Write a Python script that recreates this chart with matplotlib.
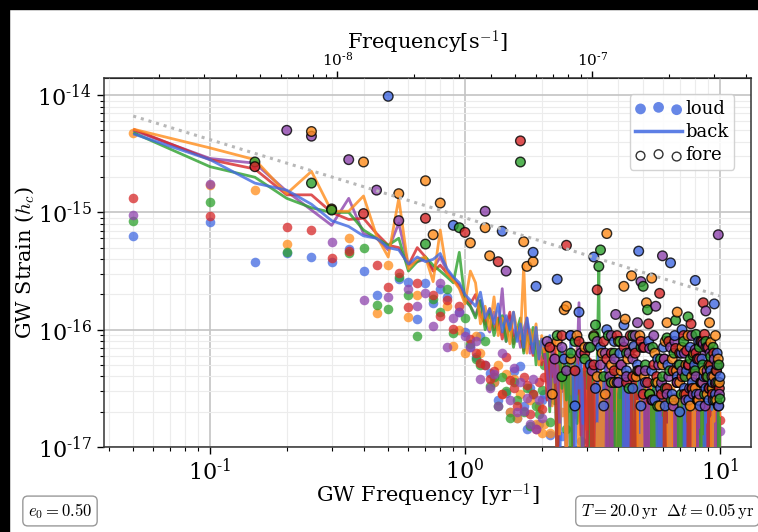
import numpy as np
import matplotlib
matplotlib.use("Agg")
import matplotlib.pyplot as plt
from matplotlib.lines import Line2D
from matplotlib.patches import Rectangle
from matplotlib.ticker import FuncFormatter

plt.rcParams.update({
    "font.family": "serif",
    "font.serif": ["DejaVu Serif"],
    "mathtext.fontset": "cm",
    "axes.unicode_minus": False,
})

# ---- observing setup -------------------------------------------------------
T_YR = 20.0          # observing span [yr]
DT_YR = 0.05         # cadence [yr]
ECC0 = 0.50          # initial eccentricity
YR_SEC = 365.25 * 86400.0
N_BINS = 200
freqs = np.arange(1, N_BINS + 1) / T_YR   # Fourier bins k/T  [yr^-1]

# reference power law  h_c = A (f / 1yr^-1)^(-2/3)
REF_AMP = 9.0e-16
REF_INDEX = -2.0 / 3.0

# All strains below are given as decades above 1e-17, i.e. log10(h_c) + 17
# (-0.6 / -0.5 mark bins that fall below the plotted floor)
STRAIN_FLOOR_LOG = -17.0

# ---- background (hc_bg) per realization -----------------------------------
back_blue = [
    2.67, 2.45, 2.25, 2.19, 2.07, 1.93, 1.88, 1.80, 1.78, 1.70, 1.68, 1.56, 1.62, 1.58, 1.60, 1.65, 1.52, 1.45, 1.40, 1.30,
    1.25, 1.20, 1.32, 1.10, 1.18, 1.05, 1.22, 0.98, 1.12, 1.00, 1.15, 0.90, 1.05, 0.85, 1.10, 0.95, 0.80, 1.02, 0.75, 0.92,
    0.85, 0.60, 0.95, 0.40, 0.80, 0.70, -0.30, 0.85, 0.55, 0.75, 0.30, 0.90, 0.65, -0.20, 0.70, 0.50, 0.80, 0.20, 0.60, 0.75,
    0.45, -0.6, 0.70, -0.6, -0.6, 0.65, 0.80, -0.6, 0.50, -0.6, 0.70, -0.6, -0.6, 0.55, -0.6, 0.40, 0.75, -0.6, -0.6, 0.60,
    -0.6, 0.30, -0.6, 0.65, -0.6, -0.6, 0.55, -0.6, 0.40, -0.6, -0.6, 0.50, -0.6, 0.35, -0.6, -0.6, 0.60, -0.6, -0.6, 0.45,
    -0.6, 0.40, -0.6, -0.6, 0.50, -0.6, -0.6, 0.35, -0.6, 0.55, -0.6, -0.6, 0.30, -0.6, -0.6, 0.45, -0.6, 0.25, -0.6, -0.6,
    0.40, -0.6, -0.6, 0.30, -0.6, 0.50, -0.6, -0.6, 0.15, -0.6, -0.6, 0.45, -0.6, 0.30, -0.6, -0.6, 0.35, -0.6, -0.6, 0.20,
    -0.6, 0.35, -0.6, -0.6, 0.45, -0.6, 0.20, -0.6, -0.6, 0.40, -0.6, -0.6, 0.30, -0.6, 0.15, -0.6, -0.6, 0.35, -0.6, 0.25,
    -0.6, -0.6, 0.30, -0.6, 0.45, -0.6, -0.6, 0.20, -0.6, -0.6, 0.40, -0.6, 0.10, -0.6, -0.6, 0.35, -0.6, -0.6, 0.25, -0.6,
    0.30, -0.6, -0.6, 0.20, -0.6, 0.35, -0.6, -0.6, 0.25, -0.6, -0.6, 0.15, -0.6, 0.30, -0.6, -0.6, 0.20, -0.6, 0.10, -0.6,
]
back_orange = [
    2.71, 2.55, 2.45, 2.16, 2.35, 2.01, 2.01, 2.14, 1.80, 1.62, 2.12, 1.52, 1.60, 1.62, 1.41, 1.85, 1.48, 1.42, 1.35, 1.22,
    1.50, 1.40, 1.05, 1.20, 1.00, 1.28, 0.95, 1.10, 1.05, 0.88, 1.15, 1.00, 0.92, 1.55, 0.80, 1.00, 0.90, 1.05, 0.70, 0.95,
    0.80, 0.55, 0.90, 0.35, 0.70, 0.85, 0.10, 0.75, 0.60, -0.20, 0.80, 0.45, 0.70, 0.25, 0.85, -0.30, 0.60, 0.50, 0.75, 0.15,
    0.65, 0.40, -0.6, 0.70, -0.6, 0.20, -0.6, 0.75, -0.6, 0.45, -0.6, -0.6, 0.70, -0.6, 0.30, 0.60, -0.6, -0.6, 0.65, -0.6,
    0.40, -0.6, -0.6, 0.30, -0.6, 0.35, 0.50, -0.6, -0.6, 0.45, -0.6, 0.30, -0.6, -0.6, 0.40, -0.6, 0.10, -0.6, 0.45, -0.6,
    -0.6, 0.50, -0.6, 0.40, -0.6, -0.6, 0.55, -0.6, -0.6, 0.45, -0.6, 0.20, -0.6, -0.6, 0.25, -0.6, 0.40, -0.6, -0.6, 0.30,
    -0.6, 0.40, -0.6, -0.6, 0.20, -0.6, 0.50, -0.6, -0.6, 0.45, -0.6, -0.6, 0.40, -0.6, 0.35, -0.6, -0.6, 0.45, -0.6, 0.25,
    0.40, -0.6, -0.6, 0.35, -0.6, 0.45, -0.6, -0.6, 0.30, -0.6, 0.40, -0.6, -0.6, 0.35, -0.6, -0.6, 0.40, -0.6, 0.30, -0.6,
    -0.6, 0.35, -0.6, 0.40, -0.6, -0.6, 0.10, -0.6, 0.35, -0.6, -0.6, 0.40, -0.6, -0.6, 0.30, -0.6, -0.6, 0.35, -0.6, 0.10,
    0.30, -0.6, 0.20, -0.6, -0.6, 0.25, -0.6, 0.30, -0.6, -0.6, 0.35, -0.6, -0.6, 0.25, -0.6, 0.30, -0.6, -0.6, 0.30, -0.6,
]
back_green = [
    2.68, 2.39, 2.30, 2.12, 2.04, 2.00, 2.00, 1.85, 1.78, 1.72, 1.78, 1.50, 1.58, 1.62, 1.55, 1.50, 1.45, 1.40, 1.66, 1.25,
    1.20, 1.10, 1.25, 1.00, 1.15, 0.95, 1.08, 1.12, 0.90, 1.05, 0.85, 1.00, 1.10, 0.80, 0.95, 0.88, 1.02, 0.70, 0.90, 0.82,
    0.75, 0.90, 0.30, 0.80, 0.65, -0.20, 0.85, 0.50, 0.70, 0.40, 0.80, -0.30, 0.60, 0.75, 0.20, 0.70, 0.55, -0.40, 0.65, 0.50,
    0.70, -0.6, 0.60, -0.6, -0.6, 0.75, 1.50, -0.6, 0.55, -0.6, 0.65, -0.6, -0.6, 0.60, -0.6, 0.50, 0.70, -0.6, -0.6, 0.45,
    0.55, -0.6, 0.60, -0.6, -0.6, 0.20, 0.65, -0.6, -0.6, 0.50, -0.6, -0.6, 0.55, -0.6, 0.35, 0.60, -0.6, -0.6, 0.45, -0.6,
    0.50, -0.6, -0.6, 0.15, 0.45, -0.6, -0.6, 0.40, -0.6, 0.50, -0.6, -0.6, 0.35, -0.6, 0.45, -0.6, -0.6, 0.40, -0.6, 0.30,
    0.45, -0.6, -0.6, 0.35, -0.6, -0.6, 0.45, -0.6, 0.30, -0.6, 0.40, -0.6, -0.6, 0.35, -0.6, -0.6, 0.40, -0.6, 0.30, -0.6,
    -0.6, 0.40, -0.6, 0.30, -0.6, 0.35, -0.6, -0.6, 0.45, -0.6, -0.6, 0.30, -0.6, 0.40, -0.6, -0.6, 0.75, -0.6, -0.6, 0.35,
    0.20, -0.6, 0.30, -0.6, 0.35, -0.6, -0.6, 0.15, -0.6, 0.40, -0.6, -0.6, 0.30, -0.6, 0.25, -0.6, -0.6, 0.35, -0.6, -0.6,
    -0.6, 0.64, -0.6, -0.6, 0.20, -0.6, 0.65, -0.6, 0.25, -0.6, -0.6, 0.30, -0.6, 0.20, -0.6, -0.6, 0.30, -0.6, 0.25, -0.6,
]
back_red = [
    2.71, 2.45, 2.37, 2.15, 2.15, 2.00, 1.94, 1.95, 1.82, 1.72, 1.70, 1.55, 1.70, 1.62, 1.50, 1.55, 1.48, 1.42, 1.38, 1.28,
    1.22, 1.30, 1.12, 1.05, 1.18, 1.00, 1.10, 0.92, 1.05, 1.15, 0.88, 1.00, 0.95, 0.82, 1.05, 0.90, 0.78, 0.95, 0.85, 0.70,
    0.85, 0.40, 0.75, 0.60, 0.90, -0.30, 0.70, 0.55, 0.80, 0.20, 0.65, 0.75, -0.20, 0.60, 0.45, 0.80, 0.10, 0.55, 0.70, -0.40,
    0.60, 0.75, -0.6, 0.55, -0.6, 0.65, -0.6, 0.70, -0.6, 0.50, -0.6, 0.60, -0.6, -0.6, 0.65, -0.6, 0.50, -0.6, 0.60, -0.6,
    -0.6, 0.55, -0.6, 0.60, -0.6, 0.45, -0.6, 0.50, -0.6, 0.55, -0.6, -0.6, 0.60, -0.6, 0.45, -0.6, 0.35, 0.55, -0.6, 0.40,
    -0.6, 0.45, -0.6, -0.6, 0.50, -0.6, 0.35, -0.6, 0.45, -0.6, -0.6, 0.40, -0.6, 0.50, -0.6, 0.35, -0.6, 0.40, -0.6, -0.6,
    0.40, -0.6, 0.30, -0.6, -0.6, -0.6, 0.35, -0.6, 0.40, -0.6, 0.30, -0.6, 0.45, -0.6, -0.6, 0.35, -0.6, 0.30, 0.40, -0.6,
    -0.6, 0.35, -0.6, -0.6, 0.40, -0.6, -0.6, 0.35, -0.6, 0.30, -0.6, 0.40, -0.6, -0.6, 0.30, 0.45, -0.6, 0.25, -0.6, 0.35,
    -0.6, 0.30, -0.6, -0.6, 0.35, -0.6, -0.6, 0.40, -0.6, 0.20, -0.6, -0.6, 0.35, -0.6, -0.6, 0.25, 0.30, -0.6, 0.20, -0.6,
    0.35, -0.6, -0.6, 0.30, -0.6, -0.6, -0.6, 0.30, 0.25, -0.6, -0.6, 0.35, -0.6, 0.20, -0.6, 0.10, -0.6, 0.25, -0.6, 0.30,
]
back_purple = [
    2.70, 2.46, 2.42, 2.18, 2.02, 1.89, 2.12, 1.82, 1.78, 1.68, 1.91, 1.55, 1.58, 1.60, 1.52, 1.62, 1.50, 1.44, 1.36, 1.25,
    1.20, 1.12, 1.25, 1.05, 0.98, 1.15, 1.00, 1.35, 0.90, 1.12, 0.95, 1.02, 0.85, 1.00, 1.10, 0.80, 0.95, 0.88, 0.75, 0.90,
    0.80, 0.65, 0.35, 0.85, 0.55, 0.70, 0.20, 0.80, 0.60, -0.30, 0.75, 0.45, 0.65, 0.30, 0.70, 1.23, 0.50, -0.20, 0.65, 0.55,
    -0.6, 0.70, -0.6, 0.60, -0.6, -0.6, 0.65, 0.50, -0.6, 0.55, -0.6, 0.70, -0.6, -0.6, 0.60, -0.6, 0.30, 0.65, -0.6, 0.50,
    -0.6, 0.60, -0.6, 0.45, -0.6, 0.55, -0.6, 0.50, -0.6, -0.6, 0.60, -0.6, 0.25, 0.50, -0.6, -0.6, 0.45, -0.6, 0.55, -0.6,
    0.45, -0.6, 0.35, -0.6, 0.50, -0.6, -0.6, 0.45, -0.6, 0.35, -0.6, 0.50, -0.6, -0.6, 0.40, -0.6, -0.6, 0.45, -0.6, 0.35,
    -0.6, 0.45, -0.6, -0.6, 0.40, -0.6, 0.25, -0.6, -0.6, 0.45, -0.6, -0.6, 0.40, -0.6, 0.30, -0.6, 0.45, -0.6, -0.6, 0.35,
    0.25, -0.6, 0.40, -0.6, -0.6, -0.6, 0.35, -0.6, 0.45, -0.6, -0.6, 0.15, -0.6, -0.6, 0.30, -0.6, -0.6, 0.40, -0.6, 0.25,
    -0.6, -0.6, -0.6, 0.30, -0.6, 0.40, -0.6, -0.6, 0.15, -0.6, -0.6, 0.85, -0.6, 0.30, -0.6, -0.6, 0.35, -0.6, 0.25, -0.6,
    0.30, -0.6, -0.6, 0.25, -0.6, -0.6, 0.20, -0.6, -0.6, 0.25, -0.6, 0.20, -0.6, -0.6, 0.30, -0.6, 0.20, -0.6, -0.6, 0.15,
]

# ---- loudest single source (hs) per bin, per realization -------------------
single_blue = [
    1.80, 1.92, 1.58, 1.65, 1.62, 1.58, 1.69, 1.50, 1.30, 2.99, 1.43, 1.41, 1.09, 1.40, 1.23, 1.35, 1.28, 1.89, 1.15, 0.98,
    0.85, 0.77, 0.95, 0.70, 0.63, 0.55, 0.40, 1.84, 0.46, 0.30, 0.65, 0.25, 0.69, 0.35, 0.15, 0.50, 1.66, 1.37, 0.20, 0.40,
    0.45, -0.5, 0.10, -0.5, 0.62, 1.43, -0.5, 0.09, 0.75, -0.5, -0.5, 0.95, -0.5, 0.35, -0.5, 1.15, 0.05, -0.5, 0.40, -0.5,
    -0.5, 0.70, -0.5, 1.62, 0.50, -0.5, -0.5, 0.85, -0.5, 0.35, -0.5, 1.00, -0.5, 0.45, -0.5, -0.5, 0.90, -0.5, 0.55, -0.5,
    0.80, -0.5, -0.5, 1.04, -0.5, 0.65, -0.5, -0.5, 0.30, -0.5, 0.50, 0.86, -0.5, -0.5, 0.70, 1.67, -0.5, 0.35, -0.5, -0.5,
    -0.5, 0.55, -0.5, -0.5, 0.90, -0.5, -0.5, 0.65, -0.5, -0.5, 0.40, -0.5, -0.5, 0.75, -0.5, -0.5, 0.50, -0.5, -0.5, 0.85,
    -0.5, 0.35, -0.5, -0.5, 0.70, -0.5, -0.5, 1.57, -0.5, 0.45, -0.5, -0.5, 0.95, -0.5, -0.5, 0.60, -0.5, -0.5, 0.30, -0.5,
    0.80, 1.00, -0.5, -0.5, 0.50, -0.5, -0.5, 0.65, -0.5, -0.5, 0.40, -0.5, 0.85, -0.5, -0.5, 0.55, -0.5, -0.5, 0.70, 1.42,
    -0.5, 0.45, -0.5, -0.5, 0.90, -0.5, 0.35, -0.5, -0.5, 0.75, -0.5, -0.5, 0.60, -0.5, -0.5, 0.50, -0.5, 0.85, -0.5, -0.5,
    0.40, -0.5, -0.5, 0.65, -0.5, -0.5, 0.55, -0.5, -0.5, 1.22, -0.5, 0.45, -0.5, -0.5, 0.80, -0.5, -0.5, 0.35, -0.5, 0.60,
]
single_orange = [
    2.68, 2.23, 2.19, 1.73, 2.69, 2.03, 1.78, 2.43, 1.14, 1.55, 2.16, 1.11, 1.30, 2.27, 1.81, 2.08, 1.20, 0.86, 1.00, 0.80,
    1.74, 0.95, 0.80, 1.87, 1.63, 0.55, 0.70, 0.45, 0.62, 0.30, 0.58, 0.25, 0.45, 1.75, 1.54, 0.40, 1.58, 0.20, 0.35, 0.12,
    0.20, -0.5, 0.12, 0.45, -0.5, 0.90, -0.5, 0.30, 1.17, 1.20, -0.5, 0.75, -0.5, -0.5, 0.95, -0.5, 0.25, -0.5, 0.85, -0.5,
    0.35, -0.5, -0.5, 0.95, -0.5, 0.60, -0.5, -0.5, 0.80, -0.5, 0.45, 1.82, -0.5, -0.5, 0.70, -0.5, 0.55, -0.5, -0.5, 0.90,
    -0.5, 0.65, -0.5, 1.37, 1.09, -0.5, 0.75, -0.5, -0.5, 1.46, -0.5, 0.85, -0.5, 0.60, -0.5, -0.5, 0.95, -0.5, 0.45, -0.5,
    0.60, -0.5, 1.23, -0.5, -0.5, 0.45, -0.5, 1.44, -0.5, -0.5, 0.80, -0.5, -0.5, 0.55, -0.5, 0.35, -0.5, -0.5, 0.70, -0.5,
    -0.5, 0.90, -0.5, 1.06, -0.5, -0.5, 0.50, -0.5, -0.5, 0.75, -0.5, 0.40, -0.5, -0.5, 0.65, 1.15, -0.5, -0.5, 0.55, -0.5,
    -0.5, 0.85, -0.5, -0.5, 0.45, -0.5, 0.70, -0.5, -0.5, 0.95, -0.5, -0.5, 0.35, -0.5, 0.60, -0.5, -0.5, 0.80, -0.5, 0.50,
    -0.5, -0.5, 0.75, -0.5, 0.40, -0.5, -0.5, 0.90, -0.5, 0.55, -0.5, -0.5, 0.65, -0.5, -0.5, 0.85, -0.5, 0.45, -0.5, -0.5,
    0.70, 1.06, -0.5, 0.89, -0.5, -0.5, 0.50, -0.5, 0.60, -0.5, -0.5, 0.95, -0.5, 0.40, -0.5, -0.5, 0.75, -0.5, 0.55, -0.5,
]
single_green = [
    1.93, 2.09, 2.43, 1.66, 2.25, 2.02, 1.65, 1.70, 1.21, 1.18, 1.45, 1.30, 0.95, 1.73, 1.26, 1.15, 1.35, 0.97, 1.87, 1.10,
    0.88, 0.75, 0.70, 0.90, 0.52, 0.60, 0.35, 0.60, 0.48, 0.25, 0.55, 0.40, 2.43, 0.30, 0.50, 0.18, 0.45, 0.35, 0.28, 0.49,
    0.70, -0.5, 0.21, -0.5, 0.40, 0.95, -0.5, 0.60, -0.5, 0.15, -0.5, 0.80, -0.5, 0.90, -0.5, 0.65, -0.5, -0.5, 0.75, -0.5,
    -0.5, 0.85, -0.5, 0.94, 1.04, -0.5, 1.54, 1.68, -0.5, 0.60, -0.5, -0.5, 0.95, -0.5, 0.55, -0.5, 0.80, -0.5, -0.5, 0.45,
    0.90, -0.5, 0.60, -0.5, -0.5, 0.80, -0.5, 0.50, -0.5, -0.5, 0.95, -0.5, 0.40, -0.5, 0.65, -0.5, -0.5, 0.85, -0.5, 1.37,
    -0.5, 0.70, -0.5, 1.17, -0.5, 0.45, -0.5, -0.5, 0.85, -0.5, -0.5, 0.55, -0.5, 0.35, -0.5, -0.5, 0.75, -0.5, 0.60, -0.5,
    -0.5, 0.50, -0.5, 0.93, -0.5, -0.5, 0.65, -0.5, 0.40, -0.5, -0.5, 0.80, -0.5, 1.08, -0.5, 0.55, -0.5, -0.5, 0.70, -0.5,
    0.45, -0.5, -0.5, 0.90, -0.5, 0.60, -0.5, -0.5, 0.35, 1.11, -0.5, -0.5, 0.75, -0.5, 0.50, -0.5, 0.78, -0.5, -0.5, 0.65,
    0.96, -0.5, 0.40, -0.5, -0.5, 0.85, -0.5, 0.55, -0.5, -0.5, 0.70, -0.5, -0.5, 0.45, -0.5, 0.90, -0.5, -0.5, 0.60, -0.5,
    -0.5, 0.68, -0.5, 0.77, -0.5, 0.50, -0.5, 0.85, -0.5, -0.5, 0.40, -0.5, 0.65, -0.5, -0.5, 0.55, -0.5, 0.70, -0.5, 0.41,
]
single_red = [
    2.12, 1.97, 2.39, 1.88, 1.85, 1.61, 1.67, 1.99, 1.55, 1.36, 1.48, 1.19, 1.40, 1.95, 1.30, 1.12, 1.25, 1.01, 1.20, 1.83,
    0.92, 0.80, 0.72, 0.70, 0.58, 0.65, 1.58, 0.45, 0.77, 0.57, 0.50, 0.35, 2.61, 0.60, 0.53, 0.28, 0.45, 0.15, 0.55, 0.32,
    0.60, -0.5, 0.85, -0.5, 0.70, -0.5, 0.50, 0.95, -0.5, 1.72, -0.5, 0.75, -0.5, 0.65, -0.5, 0.90, -0.5, -0.5, 0.80, -0.5,
    0.45, -0.5, -0.5, 0.70, -0.5, 1.34, -0.5, 0.60, -0.5, 0.90, -0.5, 0.75, -0.5, -0.5, 0.80, -0.5, 0.65, -0.5, 0.95, -0.5,
    -0.5, 0.70, -0.5, 0.85, -0.5, 0.55, -0.5, -0.5, 0.95, -0.5, 0.60, -0.5, 0.80, -0.5, -0.5, 0.65, -0.5, 0.90, -0.5, 0.45,
    0.85, -0.5, -0.5, 0.55, 1.05, -0.5, -0.5, 0.40, -0.5, 0.70, -0.5, -0.5, 0.60, -0.5, -0.5, 1.31, -0.5, 0.45, -0.5, -0.5,
    0.75, -0.5, -0.5, 0.50, -0.5, 0.90, -0.5, -0.5, 0.35, -0.5, 0.65, -0.5, -0.5, 0.84, -0.5, 0.55, -0.5, -0.5, 0.80, -0.5,
    -0.5, 0.60, -0.5, 0.95, -0.5, -0.5, 0.45, 0.82, -0.5, -0.5, 0.70, -0.5, -0.5, 1.05, -0.5, 0.50, -0.5, 0.65, -0.5, -0.5,
    0.80, -0.5, -0.5, 0.40, -0.5, 0.75, -0.5, -0.5, 0.55, -0.5, 0.90, 1.23, -0.5, 0.96, -0.5, -0.5, 0.60, -0.5, -0.5, 0.85,
    -0.5, 0.50, -0.5, 0.70, -0.5, -0.5, 0.45, -0.5, 0.80, -0.5, -0.5, 0.54, -0.5, 0.65, -0.5, -0.5, 0.35, -0.5, 0.50, 0.23,
]
single_purple = [
    1.98, 2.24, 2.41, 2.70, 2.65, 1.75, 2.45, 1.25, 2.19, 1.28, 1.93, 1.35, 1.20, 1.31, 1.03, 1.40, 0.85, 1.10, 1.15, 0.95,
    0.85, 0.90, 0.58, 2.01, 0.50, 0.62, 0.35, 0.80, 1.50, 0.40, 0.67, 0.30, 0.55, 0.31, 0.42, 0.20, 0.58, 0.15, 0.40, 0.25,
    -0.5, 0.90, -0.5, 0.55, 0.75, -0.5, -0.5, 0.85, -0.5, 0.65, -0.5, 0.95, -0.5, -0.5, 0.70, -0.5, 0.80, -0.5, 0.60, -0.5,
    0.85, -0.5, 0.65, -0.5, -0.5, 0.90, -0.5, 0.70, -0.5, -0.5, 0.80, -0.5, -0.5, 0.60, 0.95, -0.5, 0.75, 1.13, -0.5, 0.55,
    -0.5, 0.70, -0.5, 0.90, -0.5, 0.60, -0.5, 0.80, -0.5, -0.5, 0.75, -0.5, 0.95, -0.5, 1.06, -0.5, 0.65, 1.41, -0.5, 0.85,
    -0.5, 0.65, -0.5, -0.5, 0.50, 0.84, -0.5, -0.5, 0.40, 0.95, -0.5, 1.20, -0.5, -0.5, 0.70, -0.5, -0.5, 0.55, 1.63, -0.5,
    0.75, -0.5, -0.5, 0.45, -0.5, 0.60, -0.5, 0.85, -0.5, -0.5, 0.35, -0.5, 0.90, -0.5, -0.5, 0.55, -0.5, 0.70, -0.5, -0.5,
    -0.5, 0.65, -0.5, -0.5, 0.80, -0.5, 0.40, -0.5, -0.5, 0.70, -0.5, 0.50, -0.5, -0.5, 0.95, -0.5, 0.45, -0.5, -0.5, 0.83,
    0.60, -0.5, -0.5, 0.75, -0.5, 0.45, -0.5, -0.5, 0.90, -0.5, 0.55, 0.88, -0.5, -0.5, 0.35, 1.16, -0.5, 0.65, -0.5, -0.5,
    0.50, -0.5, 0.80, -0.5, -0.5, 0.60, -0.5, 0.40, -0.5, 0.75, -0.5, -0.5, 0.55, -0.5, 0.70, -0.5, 1.81, -0.5, 0.45, 0.14,
]

colors = ["#4169e1", "#ff8c1a", "#2ca02c", "#d62728", "#8e44ad"]
backs = [back_blue, back_orange, back_green, back_red, back_purple]
singles = [single_blue, single_orange, single_green, single_red, single_purple]
N_REAL = len(colors)


def to_strain(vals):
    return 10.0 ** (np.asarray(vals, dtype=float) + STRAIN_FLOOR_LOG)


def pow10_label(val, pos):
    """10^n with a short hyphen for negative powers."""
    if val <= 0:
        return ""
    n = int(np.round(np.log10(val)))
    if abs(np.log10(val) - n) > 1e-6:
        return ""
    exp = ("\u2010%d" % -n) if n < 0 else "%d" % n
    return r"$\mathdefault{10^{%s}}$" % exp


# ---- figure ----------------------------------------------------------------
W, H = 758, 532
fig = plt.figure(figsize=(W / 100, H / 100), dpi=100)
fig.patch.set_facecolor("white")
ax = fig.add_axes([104 / W, 1 - 447 / H, (750.7 - 104) / W, (447 - 78) / H])
ax.set_xscale("log")
ax.set_yscale("log")

MS = 48
hb_all = [to_strain(b) for b in backs]
hs_all = [to_strain(s) for s in singles]

# loud single sources sitting under the background
for c, hb, hs in zip(colors, hb_all, hs_all):
    quiet = hs <= hb
    ax.scatter(freqs[quiet], hs[quiet], s=MS, color=c, alpha=0.75, lw=0, zorder=2)

# characteristic-strain background of each realization.  The smooth low-
# frequency part is drawn whole (blue on top); the noisy high-frequency part
# is drawn in short pieces whose stacking order rotates, so every
# realization stays visible.
SPLIT = 40       # bin index where the spectrum turns noisy
PIECE = 6
for i in reversed(range(N_REAL)):
    ax.plot(freqs[:SPLIT + 1], hb_all[i][:SPLIT + 1], color=colors[i], lw=2.0,
            alpha=0.8, zorder=3 + 0.01 * (N_REAL - i), solid_capstyle="butt")
for p, start in enumerate(range(SPLIT, N_BINS - 1, PIECE)):
    stop = min(start + PIECE + 1, N_BINS)
    for i in range(N_REAL):
        rank = (i + 2 * p) % N_REAL
        ax.plot(freqs[start:stop], hb_all[i][start:stop], color=colors[i], lw=2.0,
                alpha=0.8, zorder=3 + 0.01 * rank, solid_capstyle="butt")

# foreground sources rising above the background (interleaved so no
# realization hides the others)
fx, fy, fc = [], [], []
for k in range(N_BINS):
    for j in range(N_REAL):
        i = (j + k) % N_REAL
        if hs_all[i][k] > hb_all[i][k]:
            fx.append(freqs[k])
            fy.append(hs_all[i][k])
            fc.append(colors[i])
ax.scatter(fx, fy, s=MS, c=fc, edgecolors="k", linewidths=1.0, alpha=0.8, zorder=4)

# reference power law
ax.plot(freqs, REF_AMP * freqs ** REF_INDEX, color="#b8b8b8", lw=2.2,
        ls=(0, (1, 1.6)), zorder=5)

ax.set_xlim(0.0384, 13.2)
ax.set_ylim(1e-17, 1.40e-14)

ax.grid(True, which="major", color="#c4c4c4", lw=1.2, zorder=0)
ax.grid(True, which="minor", color="#ececec", lw=0.8, zorder=0)
ax.set_axisbelow(True)
ax.xaxis.set_major_formatter(FuncFormatter(pow10_label))
ax.yaxis.set_major_formatter(FuncFormatter(pow10_label))
ax.tick_params(which="major", labelsize=16, length=5, width=1)
ax.tick_params(which="minor", length=3, width=0.8)
for sp in ax.spines.values():
    sp.set_color("#333333")
    sp.set_linewidth(1.1)

ax.set_xlabel(r"GW Frequency [yr$^{-1}$]", fontsize=15)
ax.xaxis.set_label_coords(0.5, -0.095)
ax.set_ylabel(r"GW Strain ($h_c$)", fontsize=15)
ax.yaxis.set_label_coords(-0.1036, 0.5)

sec = ax.secondary_xaxis("top", functions=(lambda f: f / YR_SEC, lambda h: h * YR_SEC))
sec.xaxis.set_major_formatter(FuncFormatter(pow10_label))
sec.set_xlabel(r"Frequency[s$^{-1}$]", fontsize=15)
sec.xaxis.set_label_coords(0.5, 1.076, transform=ax.transAxes)
sec.tick_params(which="major", labelsize=11, length=5, width=1, pad=2)
sec.tick_params(which="minor", length=3, width=0.8)

h_loud = ax.scatter([], [], s=60, color=colors[0], alpha=0.8, lw=0)
h_back = Line2D([], [], color=colors[0], lw=2.5, alpha=0.85)
h_fore = ax.scatter([], [], s=40, facecolor="none", edgecolor="k", lw=1.0, alpha=0.8)
ax.legend([h_loud, h_back, h_fore], ["loud", "back", "fore"], loc="upper right",
          scatterpoints=3, fontsize=13, framealpha=0.85, handlelength=2.6,
          handletextpad=0.2, labelspacing=0.3, borderpad=0.3, borderaxespad=0.9)

box = dict(boxstyle="round,pad=0.3", fc="white", ec="#999999", lw=1.0)
fig.text(60 / W, 1 - 511 / H, r"$e_0 = %.2f$" % ECC0, ha="center", va="center",
         fontsize=12, bbox=box)
fig.text(754 / W, 1 - 511 / H,
         r"$T = %.1f\,\mathrm{yr}\ \ \Delta t = %.2f\,\mathrm{yr}$" % (T_YR, DT_YR),
         ha="right", va="center", fontsize=12, bbox=box)

# dark frame strips along the top and left edges
fig.add_artist(Rectangle((0, 1 - 9 / H), 1, 9 / H, transform=fig.transFigure,
                         color="black", zorder=20))
fig.add_artist(Rectangle((0, 0), 9 / W, 1, transform=fig.transFigure,
                         color="black", zorder=20))

fig.savefig("out.png", dpi=100)
